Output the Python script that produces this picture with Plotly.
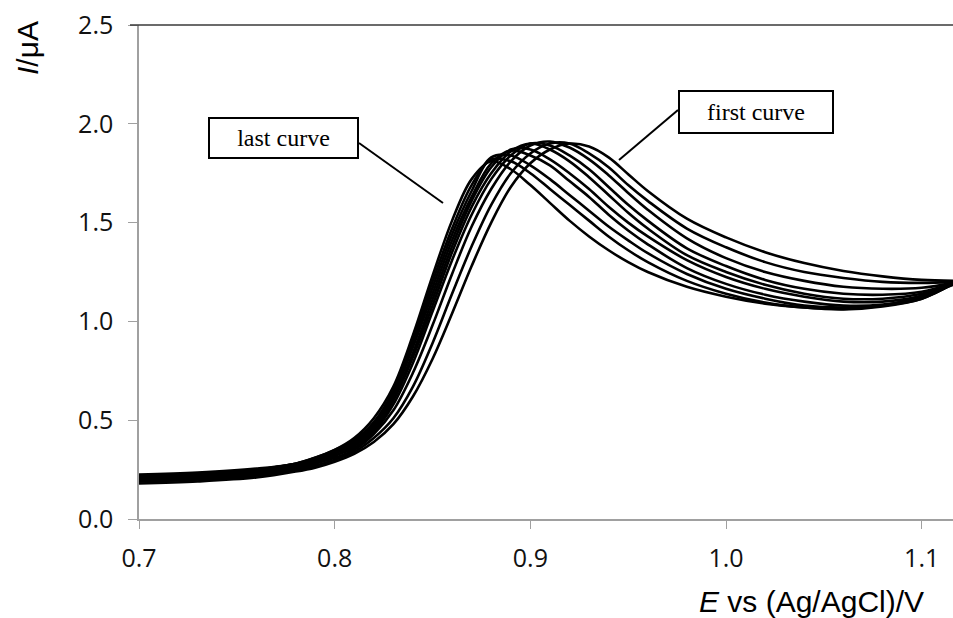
import plotly.graph_objects as go

# Potential grid (V vs Ag/AgCl)
E = [0.70, 0.73, 0.76, 0.78, 0.79, 0.80, 0.81, 0.82, 0.83, 0.84, 0.85, 0.86, 0.87, 0.88, 0.89,
     0.90, 0.91, 0.92, 0.93, 0.94, 0.95, 0.96, 0.98, 1.00, 1.02, 1.04, 1.06, 1.08, 1.10, 1.116]

# Current (µA), first curve -> last curve
curve_1 = [0.18, 0.19, 0.21, 0.24, 0.26, 0.29, 0.33, 0.39, 0.48, 0.62, 0.81, 1.04, 1.28, 1.50, 1.68,
           1.80, 1.87, 1.90, 1.885, 1.83, 1.745, 1.66, 1.52, 1.425, 1.35, 1.295, 1.255, 1.228, 1.21, 1.205]
curve_2 = [0.19, 0.20, 0.22, 0.25, 0.27, 0.30, 0.34, 0.41, 0.51, 0.67, 0.89, 1.14, 1.38, 1.59, 1.75,
           1.85, 1.90, 1.90, 1.85, 1.78, 1.69, 1.61, 1.47, 1.375, 1.30, 1.25, 1.22, 1.20, 1.195, 1.20]
curve_3 = [0.19, 0.20, 0.22, 0.25, 0.28, 0.31, 0.35, 0.43, 0.55, 0.74, 0.98, 1.24, 1.48, 1.67, 1.81,
           1.89, 1.91, 1.88, 1.82, 1.74, 1.65, 1.565, 1.42, 1.32, 1.25, 1.205, 1.175, 1.165, 1.17, 1.195]
curve_4 = [0.20, 0.21, 0.23, 0.26, 0.28, 0.32, 0.36, 0.44, 0.58, 0.79, 1.05, 1.31, 1.54, 1.72, 1.84,
           1.90, 1.89, 1.84, 1.77, 1.68, 1.59, 1.51, 1.37, 1.28, 1.21, 1.165, 1.14, 1.135, 1.15, 1.195]
curve_5 = [0.20, 0.21, 0.23, 0.26, 0.29, 0.32, 0.37, 0.45, 0.60, 0.82, 1.08, 1.35, 1.58, 1.75, 1.86,
           1.90, 1.87, 1.81, 1.73, 1.64, 1.55, 1.47, 1.335, 1.25, 1.185, 1.14, 1.115, 1.115, 1.14, 1.19]
curve_6 = [0.21, 0.22, 0.24, 0.27, 0.29, 0.33, 0.38, 0.46, 0.61, 0.84, 1.11, 1.38, 1.61, 1.78, 1.87,
           1.87, 1.82, 1.75, 1.67, 1.58, 1.50, 1.43, 1.31, 1.225, 1.165, 1.125, 1.10, 1.10, 1.13, 1.19]
curve_7 = [0.21, 0.22, 0.24, 0.27, 0.30, 0.34, 0.39, 0.47, 0.63, 0.87, 1.14, 1.41, 1.63, 1.80, 1.865,
           1.84, 1.79, 1.71, 1.63, 1.54, 1.46, 1.39, 1.27, 1.19, 1.135, 1.10, 1.08, 1.085, 1.12, 1.19]
curve_8 = [0.22, 0.23, 0.25, 0.28, 0.30, 0.34, 0.39, 0.48, 0.64, 0.89, 1.17, 1.44, 1.66, 1.83, 1.84,
           1.79, 1.72, 1.64, 1.56, 1.48, 1.41, 1.345, 1.24, 1.165, 1.115, 1.08, 1.07, 1.08, 1.115, 1.19]
curve_9 = [0.22, 0.23, 0.25, 0.28, 0.31, 0.35, 0.40, 0.49, 0.65, 0.91, 1.20, 1.47, 1.69, 1.82, 1.81,
           1.75, 1.67, 1.59, 1.51, 1.43, 1.36, 1.30, 1.205, 1.14, 1.095, 1.07, 1.06, 1.075, 1.115, 1.19]
curve_10 = [0.225, 0.235, 0.255, 0.28, 0.31, 0.35, 0.41, 0.51, 0.67, 0.93, 1.23, 1.51, 1.72, 1.81, 1.77,
            1.69, 1.60, 1.51, 1.43, 1.36, 1.30, 1.25, 1.175, 1.125, 1.09, 1.07, 1.063, 1.08, 1.13, 1.185]

curves = [curve_1, curve_2, curve_3, curve_4, curve_5, curve_6, curve_7, curve_8, curve_9, curve_10]

x_ticks = [0.7, 0.8, 0.9, 1.0, 1.1]
y_ticks = [0.0, 0.5, 1.0, 1.5, 2.0, 2.5]

W, H = 953, 618
L, R, T, B = 139, 0, 25, 99
pw, ph = W - L - R, H - T - B


def px(xp):
    return (xp - L) / pw


def py(yp):
    return (H - B - yp) / ph


fig = go.Figure()
for c in curves:
    fig.add_trace(go.Scatter(x=E, y=c, mode="lines",
                             line=dict(color="black", width=2.6, shape="spline", smoothing=1.0),
                             showlegend=False, hoverinfo="skip"))

axis_col = "#a0a0a0"
tickfont = dict(family="Open Sans, Segoe UI, sans-serif", size=25, color="#111")

fig.update_layout(
    width=W, height=H,
    margin=dict(l=L, r=R, t=T, b=B),
    paper_bgcolor="white", plot_bgcolor="white",
    xaxis=dict(range=[0.7, 1.116], tickvals=x_ticks, ticktext=[f"{v:.1f}" for v in x_ticks],
               showgrid=False, zeroline=False, showline=True, linecolor=axis_col, linewidth=1.5,
               ticks="outside", ticklen=8, tickcolor=axis_col, tickwidth=1,
               tickfont=tickfont, ticklabelstandoff=8),
    yaxis=dict(range=[0, 2.5], tickvals=y_ticks, ticktext=[f"{v:.1f}" for v in y_ticks],
               showgrid=False, zeroline=False, showline=True, linecolor=axis_col, linewidth=1.5,
               ticks="outside", ticklen=9, tickcolor=axis_col, tickwidth=1,
               tickfont=tickfont, ticklabelstandoff=10),
)

# top border of plot area
fig.add_shape(type="line", xref="paper", yref="paper", x0=-9 / pw, x1=1, y0=1, y1=1,
              line=dict(color="#3a3a3a", width=1.6))

# pointer lines
fig.add_shape(type="line", xref="paper", yref="paper", x0=px(359), y0=py(143), x1=px(443), y1=py(203),
              line=dict(color="black", width=2))
fig.add_shape(type="line", xref="paper", yref="paper", x0=px(678), y0=py(110), x1=px(619), y1=py(160),
              line=dict(color="black", width=2))

serif = dict(family="Liberation Serif, Times New Roman, serif", size=24, color="black")
fig.add_annotation(xref="paper", yref="paper", x=px(283.5), y=py(138), xanchor="center", yanchor="middle",
                   text="last curve", showarrow=False, font=serif, width=147, height=38, borderpad=0,
                   bordercolor="black", borderwidth=2, bgcolor="white")
fig.add_annotation(xref="paper", yref="paper", x=px(756), y=py(112), xanchor="center", yanchor="middle",
                   text="first curve", showarrow=False, font=serif, width=152, height=40, borderpad=0,
                   bordercolor="black", borderwidth=2, bgcolor="white")

titlefont = dict(family="Liberation Sans, Arial, sans-serif", size=30, color="black")
fig.add_annotation(xref="paper", yref="paper", x=px(811), y=py(583), xanchor="center", yanchor="top",
                   text="<i>E</i> vs (Ag/AgCl)/V", showarrow=False, font=titlefont)
fig.add_annotation(xref="paper", yref="paper", x=px(27), y=py(48), xanchor="center", yanchor="middle",
                   textangle=-90, text="<i>I</i>/μA", showarrow=False, font=titlefont)

fig.write_html("out.html")
